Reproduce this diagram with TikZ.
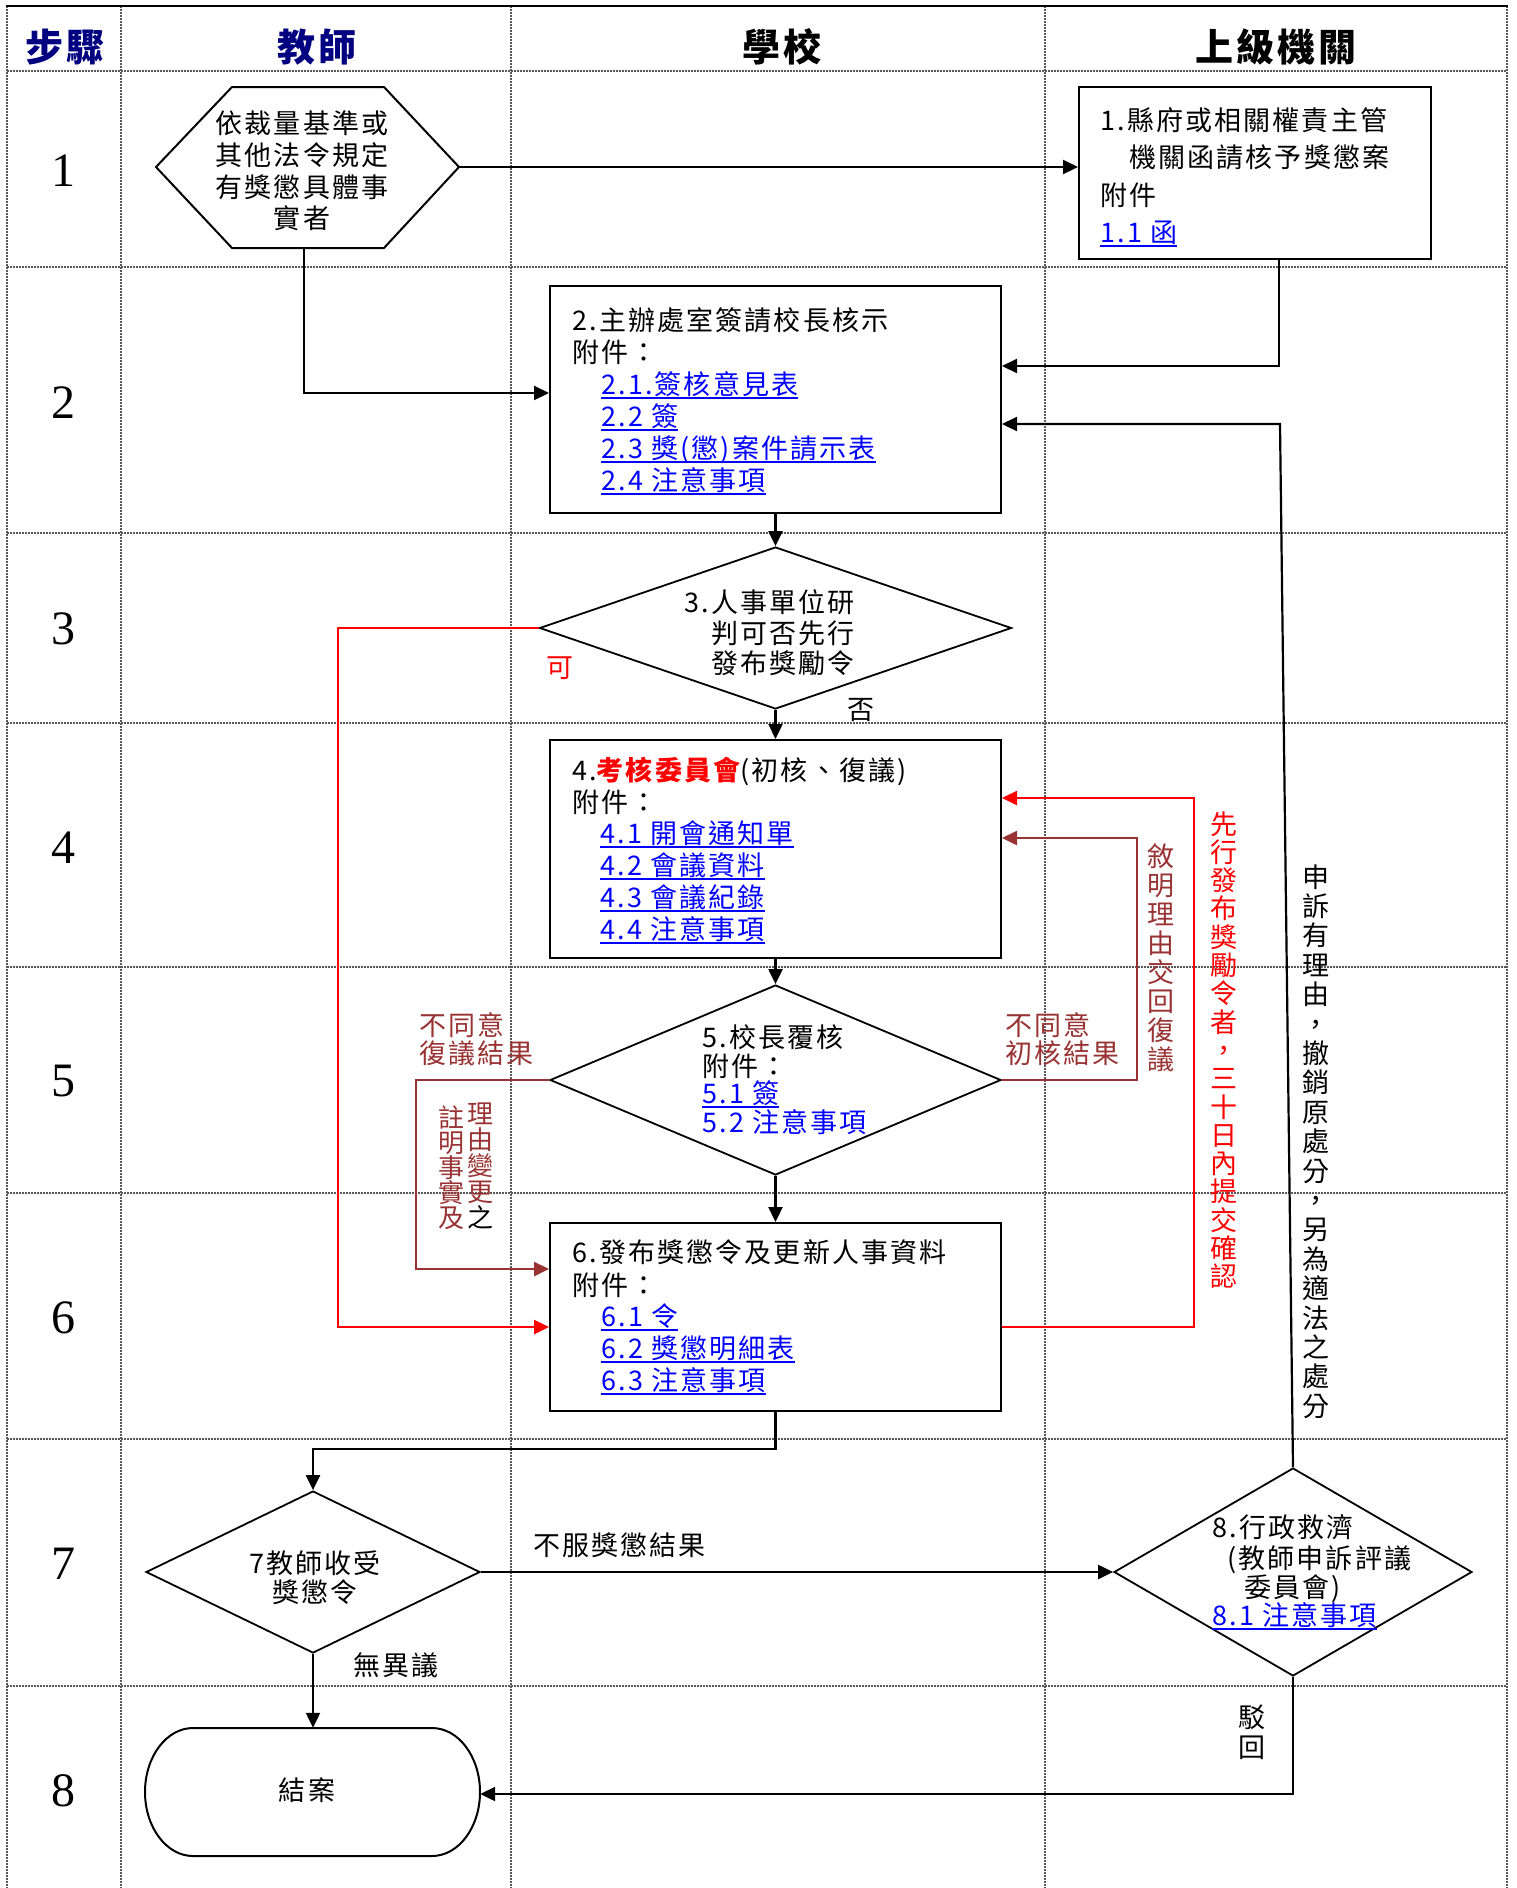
\documentclass[tikz,border=0pt]{standalone}
\usepackage{fontspec}
\setmainfont{Noto Sans CJK TC}[LetterSpace=8]
\newfontfamily\numf{Liberation Serif}
\usetikzlibrary{arrows.meta,shapes.geometric}
\definecolor{hdblue}{RGB}{0,0,128}
\definecolor{lkblue}{RGB}{0,0,255}
\definecolor{myred}{RGB}{255,0,0}
\definecolor{mybrown}{RGB}{153,51,51}
\newcommand\myul[1]{\setbox0=\hbox{#1}\rlap{\rule[-5pt]{\wd0}{2.5pt}}\box0}
\begin{document}
\begin{tikzpicture}[x=1pt,y=-1pt,
 gridline/.style={line width=1.2pt, black!65, dash pattern=on 1.5pt off 1.5pt},
 box/.style={draw, line width=2pt, rectangle, inner sep=0pt},
 dia/.style={draw, line width=1.8pt, diamond, inner sep=0pt},
 conn/.style={line width=2.2pt, -{Triangle[length=15pt,width=14pt]}},
 redconn/.style={conn, draw=myred, line width=2.5pt},
 brconn/.style={conn, draw=mybrown, line width=2.5pt},
 tx/.style={inner sep=0pt, anchor=base west, font=\fontsize{27}{32}\selectfont},
 txc/.style={tx, anchor=base},
 txe/.style={tx, anchor=base east},
 lk/.style={tx, text=lkblue},
 hd/.style={inner sep=0pt, anchor=base, font=\fontsize{38}{40}\selectfont\bfseries},
 num/.style={inner sep=0pt, anchor=base, font=\numf\fontsize{48}{50}\selectfont},
 vch/.style={inner sep=0pt, anchor=base, font=\fontsize{27}{28}\selectfont},
 vchs/.style={inner sep=0pt, anchor=base, font=\fontsize{26}{26}\selectfont},
]
\useasboundingbox (0,0) rectangle (1516,1888);
% grid
\foreach \yy in {71,267,533,723,967,1193,1439,1686} \draw[gridline] (7,\yy) -- (1507,\yy);
\foreach \xx in {7,121,511,1045,1507} \draw[gridline] (\xx,6) -- (\xx,1888);
\draw[line width=2.5pt] (6,6) -- (1508,6);
% headers
\node[hd, text=hdblue] (h0) at (65,61) {步驟};
\node[hd, text=hdblue] (h1) at (317,61) {教師};
\node[hd] (h2) at (782,61) {學校};
\node[hd] (h3) at (1276,61) {上級機關};
\foreach \n/\yy in {1/186,2/418,3/644,4/863,5/1096,6/1333,7/1579,8/1806}
  \node[num] (n\n) at (63,\yy) {\n};
% shapes
\draw[line width=2pt] (156,167) -- (232,87) -- (384,87) -- (459,167) -- (384,248) -- (232,248) -- cycle;
\coordinate (hexE) at (459,167);
\coordinate (hexS) at (304,248);
\node[box, minimum width=352, minimum height=172] (b1) at (1255,173) {};
\node[box, minimum width=451, minimum height=227] (b2) at (775.5,399.5) {};
\node[dia, minimum width=472, minimum height=162] (d3) at (775.5,628) {};
\node[box, minimum width=451, minimum height=218] (b4) at (775.5,849) {};
\node[dia, minimum width=451, minimum height=190] (d5) at (775.5,1080) {};
\node[box, minimum width=451, minimum height=188] (b6) at (775.5,1317) {};
\node[dia, minimum width=334, minimum height=162] (d7) at (313,1572) {};
\node[dia, minimum width=358, minimum height=208] (d8) at (1293,1572) {};
\node[inner sep=0pt, minimum width=335, minimum height=128] (endn) at (312.5,1792) {};
\draw[line width=2pt] (193,1728) -- (432,1728)
  .. controls (458.5,1728) and (480,1756.7) .. (480,1792)
  .. controls (480,1827.3) and (458.5,1856) .. (432,1856)
  -- (193,1856)
  .. controls (166.5,1856) and (145,1827.3) .. (145,1792)
  .. controls (145,1756.7) and (166.5,1728) .. (193,1728) -- cycle;
% connectors
\draw[conn] (hexE) -- (hexE -| b1.west);
\coordinate (c2a) at (304,393);
\draw[conn] (hexS) -- (c2a) -- (c2a -| b2.west);
\coordinate (b1s) at (1279,259);
\coordinate (c3a) at (1279,366);
\draw[conn] (b1s) -- (c3a) -- (c3a -| b2.east);
\coordinate (c4a) at (1280,424);
\draw[conn] (d8.north) -- (c4a) -- (c4a -| b2.east);
\draw[conn] (b2.south) -- (d3.north);
\draw[conn] (d3.south) -- (b4.north);
\draw[conn] (b4.south) -- (d5.north);
\draw[conn] (d5.south) -- (b6.north);
\coordinate (c9a) at (775.5,1449);
\coordinate (c9b) at (313,1449);
\draw[conn] (b6.south) -- (c9a) -- (c9b) -- (d7.north);
\draw[conn] (d7.east) -- (d8.west);
\draw[conn] (d7.south) -- (d7.south |- endn.north);
\coordinate (c12a) at (1293,1794);
\draw[conn] (d8.south) -- (c12a) -- (c12a -| endn.east);
\coordinate (r1) at (338,628);
\coordinate (r2) at (338,1327);
\draw[redconn] (d3.west) -- (r1) -- (r2) -- (r2 -| b6.west);
\coordinate (r3) at (1194,1327);
\coordinate (r4) at (1194,798);
\draw[redconn] (r3 -| b6.east) -- (r3) -- (r4) -- (r4 -| b4.east);
\coordinate (br1) at (416,1080);
\coordinate (br2) at (416,1269);
\draw[brconn] (d5.west) -- (br1) -- (br2) -- (br2 -| b6.west);
\coordinate (br3) at (1137,1080);
\coordinate (br4) at (1137,838);
\draw[brconn] (d5.east) -- (br3) -- (br4) -- (br4 -| b4.east);
% hexagon text
\node[txc] (hx1) at (302,133) {依裁量基準或};
\node[txc] (hx2) at (302,165) {其他法令規定};
\node[txc] (hx3) at (302,197) {有獎懲具體事};
\node[txc] (hx4) at (302,228) {實者};
% box 1
\node[tx] (t1a) at (1100,130) {1.縣府或相關權責主管};
\node[tx] (t1b) at (1129,167) {機關函請核予獎懲案};
\node[tx] (t1c) at (1100,205) {附件};
\node[lk] (t1d) at (1100,242) {\myul{1.1 函}};
% box 2
\node[tx] (t2a) at (572,330) {2.主辦處室簽請校長核示};
\node[tx] (t2b) at (572,362) {附件：};
\node[lk] (t2c) at (601,394) {\myul{2.1.簽核意見表}};
\node[lk] (t2d) at (601,426) {\myul{2.2 簽}};
\node[lk] (t2e) at (601,458) {\myul{2.3 獎(懲)案件請示表}};
\node[lk] (t2f) at (601,490) {\myul{2.4 注意事項}};
% diamond 3
\node[txe] (t3a) at (855,612) {3.人事單位研};
\node[txe] (t3b) at (855,643) {判可否先行};
\node[txe] (t3c) at (855,673) {發布獎勵令};
\node[txc, text=myred] (lk1) at (560,677) {可};
\node[txc] (lf1) at (861,719) {否};
% box 4
\node[tx] (t4a) at (572,780) {4.{\color{myred}\bfseries 考核委員會}(初核、復議)};
\node[tx] (t4b) at (572,812) {附件：};
\node[lk] (t4c) at (600,843) {\myul{4.1 開會通知單}};
\node[lk] (t4d) at (600,875) {\myul{4.2 會議資料}};
\node[lk] (t4e) at (600,907) {\myul{4.3 會議紀錄}};
\node[lk] (t4f) at (600,939) {\myul{4.4 注意事項}};
% diamond 5
\node[tx] (t5a) at (702,1047) {5.校長覆核};
\node[tx] (t5b) at (702,1076) {附件：};
\node[lk] (t5c) at (702,1103) {\myul{5.1 簽}};
\node[lk] (t5d) at (702,1132) {5.2 注意事項};
\node[tx, text=mybrown] (l5a) at (419,1035) {不同意};
\node[tx, text=mybrown] (l5b) at (419,1063) {復議結果};
\node[tx, text=mybrown] (l5c) at (1005,1035) {不同意};
\node[tx, text=mybrown] (l5d) at (1005,1063) {初核結果};
% box 6
\node[tx] (t6a) at (572,1262) {6.發布獎懲令及更新人事資料};
\node[tx] (t6b) at (572,1295) {附件：};
\node[lk] (t6c) at (601,1326) {\myul{6.1 令}};
\node[lk] (t6d) at (601,1358) {\myul{6.2 獎懲明細表}};
\node[lk] (t6e) at (601,1390) {\myul{6.3 注意事項}};
% diamond 7 and 8
\node[txc] (t7a) at (315,1573) {7教師收受};
\node[txc] (t7b) at (315,1602) {獎懲令};
\node[tx] (t8a) at (1212,1537) {8.行政救濟};
\node[tx] (t8b) at (1227,1568) {(教師申訴評議};
\node[tx] (t8c) at (1244,1597) {委員會)};
\node[lk] (t8d) at (1212,1625) {\myul{8.1 注意事項}};
\node[tx] (l7a) at (533,1555) {不服獎懲結果};
\node[tx] (l7b) at (353,1675) {無異議};
\node[txc] (l8a) at (1252,1727) {駁};
\node[txc] (l8b) at (1252,1757) {回};
\node[txc] (tend) at (307,1800) {結案};
% vertical texts
\foreach \c [count=\i from 0] in {敘,明,理,由,交,回,復,議}
  \node[vch, text=mybrown] (va\i) at (1161,{866+29*\i}) {\c};
\foreach \c [count=\i from 0] in {先,行,發,布,獎,勵,令,者,，,三,十,日,內,提,交,確,認}
  \node[vch, text=myred] (vb\i) at (1224,{834+28.3*\i}) {\c};
\foreach \c [count=\i from 0] in {申,訴,有,理,由,，,撤,銷,原,處,分,，,另,為,適,法,之,處,分}
  \node[vch] (vc\i) at (1316,{887+29.4*\i}) {\c};
\foreach \c/\yy [count=\i from 0] in {理/1123,由/1149,變/1175,更/1201}
  \node[vchs, text=mybrown] (vd\i) at (480,\yy) {\c};
\node[vchs] (vd4) at (480,1227) {之};
\foreach \c/\yy [count=\i from 0] in {註/1127,明/1152,事/1177,實/1202,及/1227}
  \node[vchs, text=mybrown] (ve\i) at (451,\yy) {\c};
\end{tikzpicture}
\end{document}
